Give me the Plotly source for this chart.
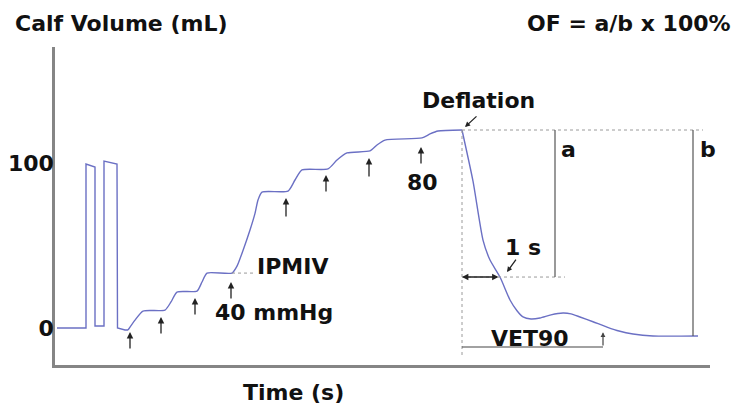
import plotly.graph_objects as go

# ---- data: calf volume trace (time in s, volume in mL) ----
time_s = [0.05, 0.775, 0.775, 1.0, 1.0, 1.225, 1.225, 1.55, 1.5625, 1.75, 1.825, 2.0, 2.2,
          2.75, 2.9, 3.05, 3.55, 3.675, 3.8, 4.425, 4.55, 4.7, 4.875, 5.0, 5.075, 5.175,
          5.825, 6.0, 6.175, 6.825, 7.05, 7.3, 7.875, 8.05, 8.25, 9.175, 9.375, 9.575,
          10.175, 10.45, 10.7, 10.875, 11.125, 11.375, 11.55, 11.7, 11.9, 12.125, 12.4,
          12.7, 12.9, 13.125, 13.45, 13.8, 14.1, 14.45, 14.95, 16.075]
volume_ml = [0, 0, 99.4, 97.6, 1.2, 1.2, 101.2, 99.4, 0, -1.2, -1.2, 4.8, 10.3,
             10.9, 15.8, 21.8, 22.4, 27.9, 33.3, 33.3, 37.5, 47.0, 59.4, 69.5, 77.6, 82.4,
             83.0, 89.7, 95.8, 96.4, 101.8, 106.1, 107.3, 110.9, 113.9, 115.2, 117.6, 119.4,
             120.0, 89.0, 53.3, 41.2, 30.9, 17.0, 10.5, 6.7, 5.5, 6.1, 8.0,
             9.1, 8.6, 6.7, 3.8, 0.6, -1.8, -3.6, -4.8, -4.8]
pulse_end = 10   # index where the calibration pulses end and the cuff steps start
defl_idx = 38    # index of cuff deflation

y_tick_vals = [0, 100]
y_tick_text = ["0", "100"]

# cuff pressure step arrows: time, tip level, tail level
step_arrow_t = [1.875, 2.65, 3.5, 4.4, 5.775, 6.775, 7.85, 9.15]
step_arrow_tip = [-2.4, 6.7, 18.2, 27.9, 78.8, 92.7, 103.0, 109.7]
step_arrow_tail = [-13.3, -4.2, 7.3, 17.0, 66.7, 81.8, 90.9, 98.8]

# key levels
t_defl = 10.175
v_top = 120.0
v_1s = 30.9
t_1s = 11.125
v_end = -4.8
t_a = 12.5
t_b = 15.95
t_vet90 = 13.7
v_ipmiv = 33.3

LINE = "#6b70c4"
FONT = "DejaVu Sans"
GUIDE = "#9a9a9a"
FS = 22

fig = go.Figure()
segments = [(0, pulse_end + 1, "linear"), (pulse_end, defl_idx + 1, "spline"),
            (defl_idx, len(time_s), "spline")]
for a, b, shp in segments:
    fig.add_trace(go.Scatter(x=time_s[a:b], y=volume_ml[a:b], mode="lines",
                             line=dict(color=LINE, width=1.4, shape=shp,
                                       **({"smoothing": 0.6} if shp == "spline" else {})),
                             hoverinfo="skip", showlegend=False))

# guides
shapes = [
    dict(type="line", x0=t_defl, x1=16.2, y0=v_top, y1=v_top,
         line=dict(color=GUIDE, width=1, dash="dot")),
    dict(type="line", x0=t_defl, x1=t_defl, y0=v_top, y1=-17.6,
         line=dict(color=GUIDE, width=1, dash="dot")),
    dict(type="line", x0=t_defl, x1=12.75, y0=v_1s, y1=v_1s,
         line=dict(color=GUIDE, width=1, dash="dot")),
    dict(type="line", x0=4.425, x1=5.0, y0=v_ipmiv, y1=v_ipmiv,
         line=dict(color=GUIDE, width=1, dash="dot")),
    dict(type="line", x0=t_a, x1=t_a, y0=v_top, y1=v_1s,
         line=dict(color="#555555", width=1.2)),
    dict(type="line", x0=t_b, x1=t_b, y0=v_top, y1=v_end,
         line=dict(color="#555555", width=1.2)),
    dict(type="line", x0=t_defl, x1=t_vet90, y0=-11.5, y1=-11.5,
         line=dict(color="#444444", width=1.2)),
]
fig.update_layout(shapes=shapes)

for t, tip, tail in zip(step_arrow_t, step_arrow_tip, step_arrow_tail):
    fig.add_annotation(x=t, y=tip, ax=t, ay=tail, axref="x", ayref="y", text="",
                       showarrow=True, arrowhead=2, arrowsize=1, arrowwidth=1.3,
                       arrowcolor="#222222")

# labels on plot
labels = [
    ("40 mmHg", 5.475, 9.7),
    ("IPMIV", 5.925, 37.0),
    ("80", 9.175, 87.9),
    ("Deflation", 10.575, 137.6),
    ("a", 12.825, 107.9),
    ("b", 16.325, 107.9),
    ("1 s", 11.7, 49.1),
    ("VET90", 11.875, -6.1),
]
for txt, x, y in labels:
    fig.add_annotation(x=x, y=y, text=txt, showarrow=False,
                       font=dict(family=FONT, size=FS, color="#111111", weight="bold"))

# pointer arrows
fig.add_annotation(x=10.25, y=121.8, ax=10.575, ay=129.1, axref="x", ayref="y", text="",
                   showarrow=True, arrowhead=2, arrowsize=0.8, arrowwidth=1.3, arrowcolor="#222222")
fig.add_annotation(x=11.3, y=33.9, ax=11.55, ay=42.4, axref="x", ayref="y", text="",
                   showarrow=True, arrowhead=2, arrowsize=0.8, arrowwidth=1.3, arrowcolor="#222222")
fig.add_annotation(x=t_defl, y=v_1s, ax=t_1s, ay=v_1s, axref="x", ayref="y", text="",
                   showarrow=True, arrowhead=2, arrowside="end+start", arrowsize=0.8,
                   arrowwidth=1.6, arrowcolor="#222222")
fig.add_annotation(x=t_vet90, y=-2.5, ax=t_vet90, ay=-11.5, axref="x", ayref="y", text="",
                   showarrow=True, arrowhead=2, arrowsize=0.8, arrowwidth=1.2, arrowcolor="#444444")

PW, PH = 655, 318
# titles (paper coords relative to plot area: left 55px, top 47px)
fig.add_annotation(xref="paper", yref="paper", x=(13 - 55) / PW, y=1 + 24 / PH,
                   xanchor="left", yanchor="middle",
                   text="Calf Volume (mL)", showarrow=False,
                   font=dict(family=FONT, size=FS, color="#111111", weight="bold"))
fig.add_annotation(xref="paper", yref="paper", x=(733 - 55) / PW, y=1 + 24 / PH,
                   xanchor="right", yanchor="middle",
                   text="OF = a/b x 100%", showarrow=False,
                   font=dict(family=FONT, size=FS, color="#111111", weight="bold"))
fig.add_annotation(xref="paper", yref="paper", x=(293 - 55) / PW, y=-(392 - 365) / PH,
                   xanchor="center", yanchor="middle",
                   text="Time (s)", showarrow=False,
                   font=dict(family=FONT, size=FS, color="#111111", weight="bold"))

fig.update_layout(
    width=737, height=406,
    margin=dict(l=55, r=27, t=47, b=41),
    paper_bgcolor="white", plot_bgcolor="white",
    font=dict(family=FONT, size=FS, color="#111111"),
    xaxis=dict(range=[0, 16.375], showline=True, linecolor="#858585", linewidth=2.5,
               showgrid=False, zeroline=False, showticklabels=False, ticks="",
               automargin=False),
    yaxis=dict(range=[-22.4, 170.3], showline=True, linecolor="#858585", linewidth=2.5,
               showgrid=False, zeroline=False, tickvals=y_tick_vals, ticktext=y_tick_text,
               ticks="", automargin=False, ticklabelstandoff=-6,
               tickfont=dict(family=FONT, size=FS, color="#111111", weight="bold")),
)

fig.write_html("out.html", config={"displayModeBar": False},
               post_script="document.body.style.margin='0';document.body.style.overflow='hidden';")
